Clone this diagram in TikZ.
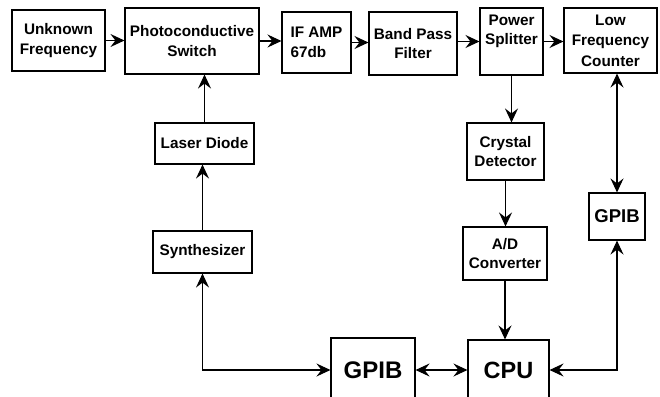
\documentclass[tikz,border=0pt]{standalone}
\usepackage{fontspec}
\setmainfont{Liberation Sans}
\usetikzlibrary{arrows.meta}
\begin{document}
\begin{tikzpicture}[x=1pt,y=-1pt,
  blk/.style={draw, line width=1.1pt, inner sep=0pt, align=center,
    font=\bfseries\fontsize{15.3}{19.5}\selectfont},
  arr/.style={line width=1.1pt, -{Stealth[length=14pt,width=13pt,inset=5pt]}},
  darr/.style={line width=1.1pt, {Stealth[length=14pt,width=13pt,inset=5pt]}-{Stealth[length=14pt,width=13pt,inset=5pt]}}]
\useasboundingbox (0,0) rectangle (660,396);
\clip (0,0) rectangle (660,396);
\fill[white] (0,0) rectangle (660,396);
\node[blk, minimum width=93pt, minimum height=61pt] (unk) at (58.5,40.5) {Unknown\\Frequency};
\node[blk, minimum width=134pt, minimum height=66pt] (photo) at (192,41) {Photoconductive\\Switch};
\node[blk, minimum width=69pt, minimum height=61pt, align=left] (ifamp) at (316.5,42.5) {IF AMP\\67db};
\node[blk, minimum width=88pt, minimum height=63pt] (bpf) at (413,43.5) {Band Pass\\Filter};
\node[blk, minimum width=63pt, minimum height=67pt] (ps) at (511.5,41.5) {Power\\Splitter\\[4pt]};
\node[blk, minimum width=93pt, minimum height=65pt, font=\bfseries\fontsize{15.3}{20.5}\selectfont] (lfc) at (610.5,40.5) {Low\\Frequency\\Counter};
\node[blk, minimum width=99pt, minimum height=41pt] (laser) at (204.5,143.5) {Laser Diode};
\node[blk, minimum width=77pt, minimum height=57pt] (crystal) at (505.5,151.5) {Crystal\\Detector};
\node[blk, minimum width=99pt, minimum height=42pt] (synth) at (202.5,252) {Synthesizer};
\node[blk, minimum width=84pt, minimum height=53pt] (ad) at (505,253.5) {A/D\\Converter};
\node[blk, minimum width=56pt, minimum height=47pt, font=\bfseries\fontsize{18.5}{22}\selectfont] (gpibr) at (617,216.5) {GPIB};
\node[blk, minimum width=84pt, minimum height=64pt, font=\bfseries\fontsize{24}{28}\selectfont] (gpibc) at (373,370) {GPIB};
\node[blk, minimum width=81pt, minimum height=60pt, font=\bfseries\fontsize{23.5}{28}\selectfont] (cpu) at (508.5,370) {CPU};
\draw[arr] (unk.east) -- (unk.east -| photo.west);
\draw[arr] (photo.east) -- (photo.east -| ifamp.west);
\draw[arr] (ifamp.east) -- (ifamp.east -| bpf.west);
\draw[arr] (ps.west -| bpf.east) -- (ps.west);
\draw[arr] (ps.east) -- (ps.east -| lfc.west);
\draw[arr] (laser.north) -- (laser.north |- photo.south);
\draw[arr] (synth.north) -- (synth.north |- laser.south);
\draw[arr] (ps.south) -- (ps.south |- crystal.north);
\draw[arr] (crystal.south) -- (crystal.south |- ad.north);
\draw[arr] (ad.south) -- (ad.south |- cpu.north);
\draw[darr] (gpibr.north) -- (gpibr.north |- lfc.south);
\draw[darr] (synth.south) -- (synth.south |- gpibc.west) -- (gpibc.west);
\draw[darr] (gpibc.east) -- (cpu.west);
\draw[darr] (gpibr.south) -- (gpibr.south |- cpu.east) -- (cpu.east);
\end{tikzpicture}
\end{document}
